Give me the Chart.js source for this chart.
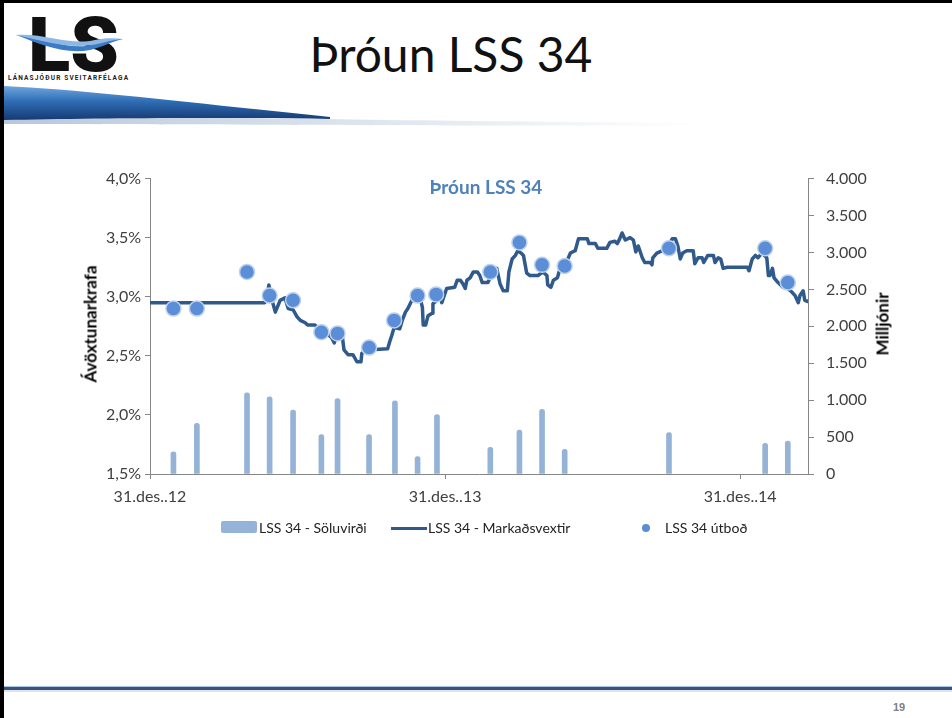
<!DOCTYPE html>
<html>
<head>
<meta charset="utf-8">
<script src="https://cdn.jsdelivr.net/npm/chart.js@4"></script>
<style>
  body { margin: 0; background: #fff; }
  #page { position: relative; width: 952px; height: 718px; overflow: hidden; background: #fff; font-family: Lato, "Open Sans", sans-serif; }
  .abs { position: absolute; }
  #title { left: 300px; top: 25px; width: 302px; text-align: center; font-size: 48px; color: #111; white-space: nowrap; }
  #chartTitle { left: 386px; top: 175px; width: 200px; text-align: center; font-size: 19px; font-weight: bold; color: #4F81BD; }
  .axTitle { font-size: 17px; font-weight: bold; color: #000; white-space: nowrap; transform: translate(-50%, -50%) rotate(-90deg); }
  #legend { left: 0; top: 519px; width: 952px; height: 20px; font-size: 14px; color: #222; }
  .lg { position: absolute; top: 0; white-space: nowrap; line-height: 18px; }
  #pageNo { left: 893px; top: 701px; font-size: 11px; font-weight: bold; color: #808080; font-family: "Liberation Sans Narrow", "Liberation Sans", sans-serif; }
</style>
</head>
<body>
<div id="page">
  <div class="abs" style="left:0;top:0;width:4px;height:718px;background:#000"></div>
  <div class="abs" style="left:0;top:0;width:952px;height:3px;background:#000"></div>

  <svg class="abs" style="left:0;top:0" width="952" height="130">
    <defs>
      <linearGradient id="band" x1="0" y1="0" x2="0" y2="1">
        <stop offset="0" stop-color="#6FA6DE"/>
        <stop offset="0.45" stop-color="#2F6DB5"/>
        <stop offset="1" stop-color="#163A73"/>
      </linearGradient>
      <linearGradient id="fade" x1="0" y1="0" x2="1" y2="0">
        <stop offset="0" stop-color="#B8C8DA"/>
        <stop offset="1" stop-color="#FFFFFF"/>
      </linearGradient>
    </defs>
    <path d="M4,112 C120,116 300,120 700,123 L700,126 C300,125 120,124 4,124 Z" fill="url(#fade)"/>
    <path d="M4,86 C90,90 220,106 330,117 L330,119 C220,117 90,118 4,120 Z" fill="url(#band)"/>
    <text x="28" y="71" font-family="Roboto, Lato, sans-serif" font-weight="900" font-size="76" textLength="91" lengthAdjust="spacingAndGlyphs" fill="#111">LS</text>
    <path d="M16,35 C45,37 70,52 95,44 C105,41 112,39 123,39 C110,42 100,48 90,50 C65,55 40,44 16,35 Z" fill="#3D7CC4"/>
    <path d="M16,35 C45,33 70,46 95,40 C105,38 112,38 123,39 C110,40 100,44 92,45 C66,49 40,40 16,35 Z" fill="#8DB8E6"/>
    <text x="8" y="80" font-family="Roboto, sans-serif" font-weight="bold" font-size="6.5" textLength="120" fill="#222">LÁNASJÓÐUR SVEITARFÉLAGA</text>
  </svg>

  <div id="title" class="abs">Þróun LSS 34</div>

  <canvas id="chart" class="abs" style="left:0;top:157px" width="952" height="363"></canvas>

  <div id="chartTitle" class="abs">Þróun LSS 34</div>
  <div class="abs axTitle" style="left:90px;top:324px">Ávöxtunarkrafa</div>
  <div class="abs axTitle" style="left:882px;top:324px">Milljónir</div>

  <div id="legend" class="abs">
    <div class="lg" style="left:221px;top:2px;width:36px;height:12px;background:#95B3D7;border-radius:2px"></div>
    <div class="lg" style="left:259px">LSS 34 - Söluvirði</div>
    <div class="lg" style="left:391px;top:8px;width:36px;height:3px;background:#30598C"></div>
    <div class="lg" style="left:428px">LSS 34 - Markaðsvextir</div>
    <div class="lg" style="left:642px;top:5px;width:8px;height:8px;border-radius:50%;background:#5B8ED6"></div>
    <div class="lg" style="left:665px">LSS 34 útboð</div>
  </div>

  <div class="abs" style="left:4px;top:686px;width:948px;height:1px;background:#A9C4E4"></div>
  <div class="abs" style="left:4px;top:687px;width:948px;height:3px;background:#3B5478"></div>
  <div class="abs" style="left:4px;top:690px;width:948px;height:2px;background:#DCE4EE"></div>
  <div id="pageNo" class="abs">19</div>
</div>

<script>
// days counted from 31.des.2012
const xTickDays = [0, 365, 730]
const xTickLabels = ['31.des..12', '31.des..13', '31.des..14']

// LSS 34 - Söluvirði (milljónir)
const barDays = [29, 58, 120, 148, 177, 212, 232, 271, 303, 331, 355, 421, 457, 485, 513, 642, 761, 789]
const barValues = [300, 685, 1100, 1045, 865, 535, 1020, 535, 990, 235, 805, 360, 595, 875, 335, 560, 415, 445]

// LSS 34 útboð (%)
const dotDays = [29, 58, 120, 148, 177, 212, 232, 271, 302, 331, 354, 421, 457, 485, 513, 642, 761, 789]
const dotRates = [2.90, 2.90, 3.21, 3.01, 2.97, 2.70, 2.69, 2.57, 2.80, 3.01, 3.02, 3.21, 3.46, 3.27, 3.26, 3.41, 3.41, 3.12]

// LSS 34 - Markaðsvextir (%)
const lineDays = [0, 142, 145, 147, 151, 155, 161, 167, 171, 177, 182, 186, 192, 195, 204, 210, 219, 225, 228, 231,
  238, 240, 245, 251, 256, 261, 262, 268, 294, 297, 299, 302, 309, 312, 316, 319, 324, 328, 332, 337,
  338, 341, 344, 349, 350, 355, 359, 361, 367, 377, 380, 384, 387, 390, 392, 396, 400, 405, 408, 411,
  418, 424, 429, 433, 437, 442, 444, 448, 452, 455, 459, 462, 466, 470, 480, 486, 491, 492, 496, 499,
  504, 506, 511, 517, 520, 526, 530, 541, 543, 551, 554, 565, 569, 575, 578, 581, 584, 588, 594, 598,
  601, 604, 609, 612, 619, 621, 622, 627, 634, 640, 646, 650, 653, 656, 659, 664, 672, 674, 678, 683,
  685, 690, 697, 699, 703, 706, 709, 714, 739, 741, 745, 749, 752, 757, 763, 765, 767, 770, 772, 777,
  783, 789, 794, 798, 802, 804, 808, 810, 814]
const lineRates = [2.95, 2.95, 3.00, 3.10, 2.97, 2.87, 2.97, 2.99, 2.90, 2.89, 2.83, 2.80, 2.78, 2.76, 2.76, 2.72, 2.69, 2.65, 2.61, 2.69,
  2.66, 2.55, 2.51, 2.51, 2.45, 2.45, 2.52, 2.55, 2.56, 2.63, 2.67, 2.74, 2.73, 2.80, 2.87, 2.90, 2.97, 3.05, 3.05, 2.91,
  2.76, 2.76, 2.84, 2.86, 2.94, 2.97, 3.00, 2.95, 3.07, 3.08, 3.14, 3.14, 3.11, 3.07, 3.14, 3.16, 3.21, 3.21, 3.18, 3.12,
  3.12, 3.21, 3.24, 3.11, 3.05, 3.05, 3.21, 3.32, 3.35, 3.39, 3.37, 3.35, 3.20, 3.18, 3.18, 3.21, 3.18, 3.10, 3.08, 3.14,
  3.16, 3.21, 3.25, 3.32, 3.37, 3.39, 3.49, 3.49, 3.45, 3.45, 3.41, 3.41, 3.46, 3.47, 3.45, 3.49, 3.54, 3.48, 3.50, 3.48,
  3.38, 3.43, 3.33, 3.29, 3.29, 3.27, 3.33, 3.37, 3.39, 3.41, 3.49, 3.49, 3.43, 3.32, 3.37, 3.39, 3.39, 3.28, 3.33, 3.33,
  3.29, 3.35, 3.35, 3.29, 3.33, 3.32, 3.24, 3.25, 3.25, 3.22, 3.32, 3.35, 3.33, 3.37, 3.33, 3.18, 3.18, 3.24, 3.16, 3.12,
  3.08, 3.07, 3.04, 3.01, 2.95, 3.01, 3.05, 2.97, 2.96]

const axisColor = '#868686'
const tickFont = { family: 'Lato, "Open Sans", sans-serif', size: 16 }

function thousands(v) {
  return v >= 1000 ? Math.floor(v / 1000) + '.' + String(v % 1000).padStart(3, '0') : String(v)
}

const ctx = document.getElementById('chart').getContext('2d')
const chart = new Chart(ctx, {
  type: 'bar',
  data: {
    datasets: [{
      type: 'line',
      label: 'LSS 34 útboð',
      data: dotDays.map((d, i) => ({ x: d, y: dotRates[i] })),
      yAxisID: 'y',
      showLine: false,
      pointRadius: 7.5,
      pointBackgroundColor: '#5B8ED6',
      pointBorderColor: '#BBD1EE',
      pointBorderWidth: 1.5,
      order: 0
    }, {
      type: 'line',
      label: 'LSS 34 - Markaðsvextir',
      data: lineDays.map((d, i) => ({ x: d, y: lineRates[i] })),
      yAxisID: 'y',
      borderColor: '#30598C',
      borderWidth: 3.5,
      borderJoinStyle: 'round',
      borderCapStyle: 'round',
      pointRadius: 0,
      tension: 0,
      order: 1
    }, {
      type: 'bar',
      label: 'LSS 34 - Söluvirði',
      data: barDays.map((d, i) => ({ x: d, y: barValues[i] })),
      yAxisID: 'y1',
      backgroundColor: '#95B3D7',
      barThickness: 5,
      borderRadius: 3,
      order: 2
    }]
  },
  options: {
    responsive: false,
    animation: false,
    layout: { padding: { top: 15, left: 0, right: 0, bottom: 0 } },
    plugins: { legend: { display: false }, tooltip: { enabled: false } },
    scales: {
      x: {
        type: 'linear',
        min: 0,
        max: 814,
        offset: false,
        afterBuildTicks: (scale) => { scale.ticks = xTickDays.map(v => ({ value: v })) },
        afterFit: (scale) => { scale.height = 46 },
        ticks: {
          autoSkip: false,
          maxRotation: 0,
          padding: 8,
          color: '#404040',
          font: tickFont,
          callback: (v) => { const i = xTickDays.indexOf(v); return i < 0 ? '' : xTickLabels[i] }
        },
        grid: { offset: false, drawOnChartArea: false, drawTicks: true, tickLength: 5, color: axisColor },
        border: { color: axisColor }
      },
      y: {
        position: 'left',
        min: 1.5,
        max: 4.0,
        afterFit: (scale) => { scale.width = 150 },
        ticks: {
          stepSize: 0.5,
          padding: 4,
          color: '#404040',
          font: tickFont,
          callback: (v) => v.toFixed(1).replace('.', ',') + '%'
        },
        grid: { drawOnChartArea: false, drawTicks: true, tickLength: 5, color: axisColor },
        border: { color: axisColor }
      },
      y1: {
        position: 'right',
        min: 0,
        max: 4000,
        afterFit: (scale) => { scale.width = 144 },
        ticks: {
          stepSize: 500,
          padding: 12,
          color: '#404040',
          font: tickFont,
          callback: (v) => thousands(v)
        },
        grid: { drawOnChartArea: false, drawTicks: true, tickLength: 6, color: axisColor },
        border: { color: axisColor }
      }
    }
  }
})
</script>
</body>
</html>
